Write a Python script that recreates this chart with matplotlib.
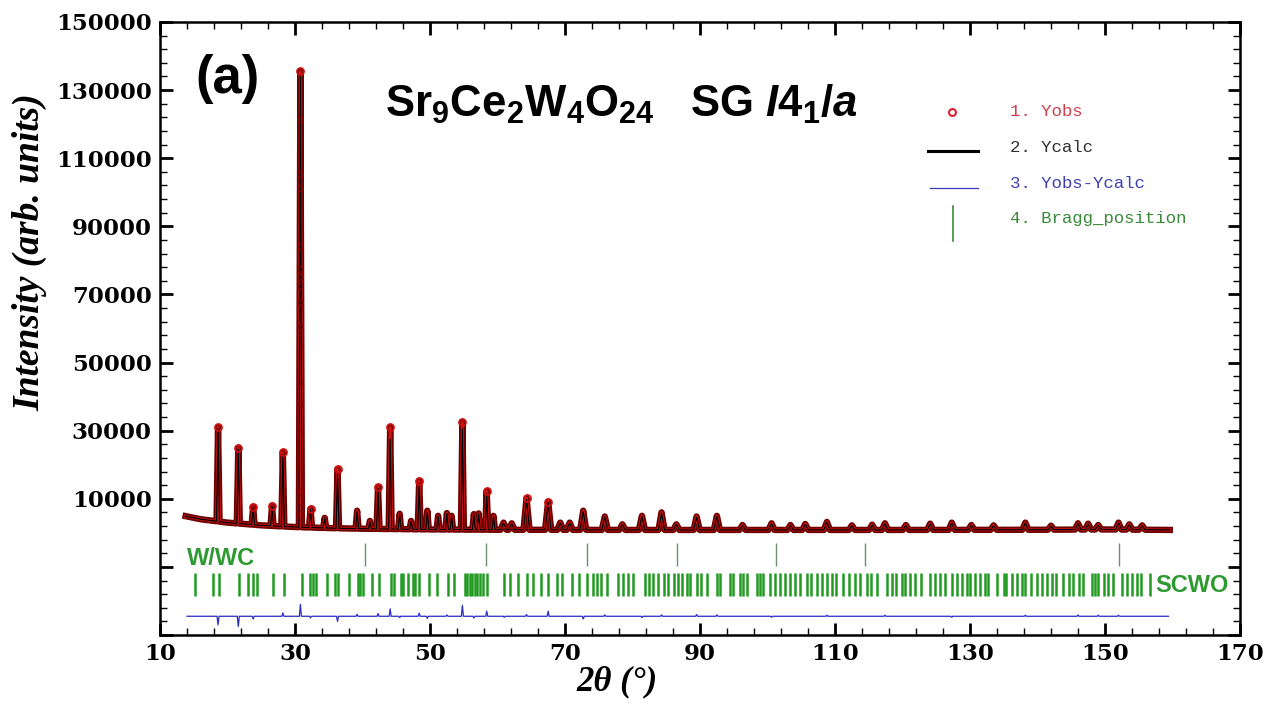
#!/usr/bin/env python3
"""Rietveld plot of Sr9Ce2W4O24 (SG I4_1/a) with W/WC impurity, panel (a)."""
import numpy as np
import matplotlib
matplotlib.use("Agg")
import matplotlib.pyplot as plt
from matplotlib.lines import Line2D

W, H = 1267, 707
plt.rcParams["mathtext.fontset"] = "custom"
plt.rcParams["mathtext.rm"] = "Liberation Sans:bold"
plt.rcParams["mathtext.it"] = "Liberation Sans:bold:italic"
plt.rcParams["mathtext.bf"] = "Liberation Sans:bold"

# background level under the pattern (2theta, intensity)
bg_tt = [13.8, 16, 18, 20, 25, 30, 35, 40, 50, 60, 80, 100, 120, 140, 150, 159.6]
bg_int = [4900, 4000, 3500, 3000, 2200, 1700, 1400, 1200, 1000, 900, 850,
          850, 850, 900, 1000, 850]

peak_tt = [18.6, 21.6, 23.8, 26.6, 28.2, 30.8, 32.3, 34.4, 36.3, 39.2, 41.1,
           42.3, 44.1, 45.5, 47.2, 48.4, 49.6, 51.2, 52.5, 53.2, 54.8, 56.5,
           57.2, 58.4, 59.4, 60.9, 62.1, 64.3, 67.5, 69.3, 70.7, 72.7, 75.9,
           78.5, 81.4, 84.3, 86.5, 89.5, 92.5, 96.3, 100.6, 103.4, 105.6,
           108.8, 112.5, 115.5, 117.4, 120.5, 124.1, 127.3, 130.2, 133.5,
           138.2, 142.0, 146.0, 147.5, 149.0, 152.0, 153.6, 155.5]
peak_obs = [31000, 25000, 7700, 8000, 23600, 135500, 7100, 4400, 18800, 6500,
            3500, 13500, 31000, 5600, 3500, 15300, 6500, 5000, 5800, 5000,
            32500, 5500, 5700, 12300, 5000, 3000, 2800, 10200, 9200, 3000,
            3000, 6500, 4800, 2500, 5000, 6000, 2500, 4800, 5000, 2300, 2800,
            2300, 2600, 3200, 2200, 2400, 2800, 2300, 2700, 3000, 2300, 2200,
            3000, 2100, 2800, 2700, 2300, 3000, 2500, 2200]
peak_calc = [30500, 24500, 7500, 7800, 23000, 134500, 7000, 4300, 17500, 6300,
             3400, 13000, 27500, 5500, 3400, 14500, 6300, 4900, 5700, 4900,
             30500, 5400, 5600, 11500, 4900, 2900, 2700, 9800, 8900, 2900,
             2900, 6300, 4700, 2400, 4800, 5800, 2400, 4600, 4800, 2200, 2700,
             2200, 2500, 3100, 2100, 2300, 2700, 2200, 2600, 2900, 2200, 2100,
             2900, 2000, 2700, 2600, 2200, 2900, 2400, 2100]
# observed points seen on the flanks of the strongest reflection
tall_tt = 30.8
tall_flank = [121500, 105400, 101400, 84300, 77500, 75000, 72600, 67700,
              60300, 44200, 37800, 30000, 20200, 12300, 9400, 5500]

# difference curve spikes (Yobs - Ycalc)
diff_tt = [18.6, 21.6, 23.8, 28.2, 30.8, 32.3, 36.3, 39.2, 42.3, 44.1, 45.5,
           48.4, 49.6, 52.5, 54.8, 56.5, 58.4, 61.0, 64.3, 67.5, 72.7, 75.9,
           81.4, 84.3, 89.5, 92.5, 100.6, 108.8, 117.4, 127.3, 138.2, 146.0,
           149.0, 152.0]
diff_val = [-2500, -3000, -800, 1000, 3500, -500, -1500, 600, 800, 2200, -400,
            900, -600, 400, 3200, -500, 1500, -300, 500, 1500, -800, 400, -400,
            400, 500, 400, -300, 300, 300, -300, 300, 400, 300, 300]
diff_ends = [14.0, 159.4]

# Bragg positions
ww_tt = [40.3, 58.3, 73.3, 86.6, 101.2, 114.4, 152.0]
scwo_tt = [15.2, 17.9, 18.8, 21.7, 23.1, 23.8, 24.4, 26.8, 28.3, 31.0, 32.2,
           32.7, 33.1, 34.7, 35.9, 36.4, 38.0, 39.4, 39.7, 40.1, 41.4, 42.5,
           44.2, 44.7, 45.7, 46.0, 46.8, 47.5, 47.8, 48.3, 49.8, 51.0, 52.7,
           53.6, 55.2, 55.5, 55.9, 56.2, 56.7, 57.0, 57.4, 57.8, 58.4, 60.9,
           61.9, 63.0, 64.3, 65.3, 66.5, 67.5, 68.8, 69.5, 71.0, 72.0, 73.2,
           74.2, 74.7, 75.4, 76.2, 77.9, 78.6, 79.4, 80.1, 81.9, 82.4, 83.1,
           83.8, 84.6, 85.3, 86.1, 86.8, 87.3, 88.0, 88.5, 89.5, 90.2, 91.0,
           92.5, 93.0, 94.4, 94.9, 95.9, 96.4, 96.9, 98.4, 98.9, 99.4, 100.4,
           101.1, 101.9, 102.6, 103.3, 104.1, 104.8, 105.8, 106.5, 107.3,
           108.0, 108.8, 109.5, 110.2, 111.2, 112.0, 113.0, 113.7, 114.7,
           115.4, 116.2, 117.7, 118.4, 119.1, 119.9, 120.4, 121.1, 121.9,
           122.8, 124.1, 124.8, 125.6, 126.3, 127.3, 128.0, 128.8, 129.5,
           130.0, 130.7, 131.5, 132.2, 132.7, 134.0, 135.0, 135.4, 136.2,
           136.9, 137.7, 138.2, 139.1, 139.9, 140.6, 141.4, 142.1, 142.8,
           143.8, 144.6, 145.3, 146.1, 146.8, 148.0, 148.5, 149.0, 149.8,
           150.5, 151.2, 152.5, 153.2, 154.0, 154.7, 155.4, 156.7]

x_ticks = np.arange(10, 171, 20)
y_ticks = np.arange(-30000, 150001, 20000)

DIFF_OFFSET = -24500
WW_ROW = (-9700, -2900)
SCWO_ROW = (-18500, -11700)
GREEN = "#2f9a32"
MARK_MIN = 7000      # only the clear peaks show separate Yobs circles


def fx(px):
    return px / W


def fy(py):
    return 1 - py / H


fig = plt.figure(figsize=(W / 100, H / 100), dpi=100)
ax = fig.add_axes([fx(160), fy(635), 1080 / W, 613 / H])

# profile: background joined through each peak (foot - top - foot)
ptt = np.array(peak_tt)
pobs = np.array(peak_obs)
hw = np.where(ptt < 60, 0.22, 0.45)
fl, fr = ptt - hw, ptt + hw
xs = np.concatenate([bg_tt, fl, ptt, fr])
bl = np.interp(fl, bg_tt, bg_int)
br = np.interp(fr, bg_tt, bg_int)
yo = np.concatenate([bg_int, bl, peak_obs, br])
yc = np.concatenate([bg_int, bl, peak_calc, br])
o = np.argsort(xs, kind="stable")

ax.plot(xs[o], yo[o], color="#6e0000", lw=4.6, solid_joinstyle="round", zorder=2)
ax.plot(xs[o], yo[o], color="#d01515", lw=2.0, zorder=3)
ax.plot(xs[o], yc[o], color="k", lw=0.9, zorder=4)
big = pobs > MARK_MIN
ax.plot(ptt[big], pobs[big], "o", mfc="none", mec="#d01010", ms=5, mew=1.3,
        zorder=5)
ax.plot([tall_tt] * len(tall_flank), tall_flank, "o", mfc="none", mec="#8a0000",
        ms=4, mew=1.0, zorder=5)

# difference curve
dtt = np.array(diff_tt)
dx = np.concatenate([diff_ends, dtt - 0.15, dtt, dtt + 0.15])
dy = np.concatenate([[0, 0], np.zeros(len(dtt)), diff_val, np.zeros(len(dtt))])
od = np.argsort(dx, kind="stable")
ax.plot(dx[od], dy[od] + DIFF_OFFSET, color="#2a2ac8", lw=0.9, zorder=3)

# Bragg rows
ax.vlines(ww_tt, *WW_ROW, color="#6d8f6d", lw=1.0)
ax.vlines(scwo_tt, *SCWO_ROW, color="#229a22", lw=1.8)

ax.set_xlim(10, 170)
ax.set_ylim(-30000, 150000)
ax.set_xticks(x_ticks)
ax.set_xticks(np.arange(10, 171, 4), minor=True)
ax.set_yticks(y_ticks)
ax.set_yticks(np.arange(-30000, 150001, 4000), minor=True)
ax.set_yticklabels(["" if v < 0 else str(v) for v in y_ticks])
ax.tick_params(which="both", direction="in", top=True, right=True)
ax.tick_params(which="major", length=9, width=2.0, pad=6)
ax.tick_params(which="minor", length=5, width=1.0)
for lbl in ax.get_xticklabels() + ax.get_yticklabels():
    lbl.set_fontfamily("DejaVu Serif")
    lbl.set_fontweight("bold")
    lbl.set_fontsize(16.5)
for s in ax.spines.values():
    s.set_linewidth(1.8)

lab = dict(fontfamily="Liberation Serif", fontstyle="italic",
           fontweight="bold")
ax.set_ylabel("Intensity (arb. units)", fontsize=27, **lab)
ax.yaxis.set_label_coords(-0.104, 0.625)
ax.set_xlabel("2θ (°)", fontsize=25, **lab)
ax.xaxis.set_label_coords(0.423, -0.05)

sans = dict(family="Liberation Sans", fontweight="bold")
fig.text(fx(227), fy(79), "(a)", ha="center", va="center", fontsize=38, **sans)
fig.text(fx(385), fy(117), r"Sr$_9$Ce$_2$W$_4$O$_{24}$", ha="left",
         va="baseline", fontsize=31.5, **sans)
fig.text(fx(690), fy(117), r"SG $\mathit{I}$4$_1$/$\mathit{a}$", ha="left",
         va="baseline", fontsize=31.5, **sans)
fig.text(fx(187), fy(565), "W/WC", ha="left", va="baseline", fontsize=17,
         color=GREEN, **sans)
fig.text(fx(1155), fy(592), "SCWO", ha="left", va="baseline", fontsize=17,
         color=GREEN, **sans)

# hand-drawn FullProf style legend
fig.add_artist(Line2D([fx(952)], [fy(112)], marker="o", mfc="none",
                      mec="#e02030", ms=5, mew=1.5, lw=0))
fig.add_artist(Line2D([fx(928), fx(978)], [fy(150.5)] * 2, color="k", lw=2.2))
fig.add_artist(Line2D([fx(930), fx(978)], [fy(188)] * 2, color="#3a3ac0", lw=0.9))
fig.add_artist(Line2D([fx(953)] * 2, [fy(206), fy(241)], color="#3a8a3a", lw=1.2))
mono = dict(family="Liberation Mono", fontsize=12.5, ha="left", va="center")
fig.text(fx(1010), fy(112), "1. Yobs", color="#d04050", **mono)
fig.text(fx(1010), fy(148), "2. Ycalc", color="#303030", **mono)
fig.text(fx(1010), fy(184), "3. Yobs-Ycalc", color="#4040b0", **mono)
fig.text(fx(1010), fy(218), "4. Bragg_position", color="#3a8a3a", **mono)

fig.savefig("out.png", dpi=100)
